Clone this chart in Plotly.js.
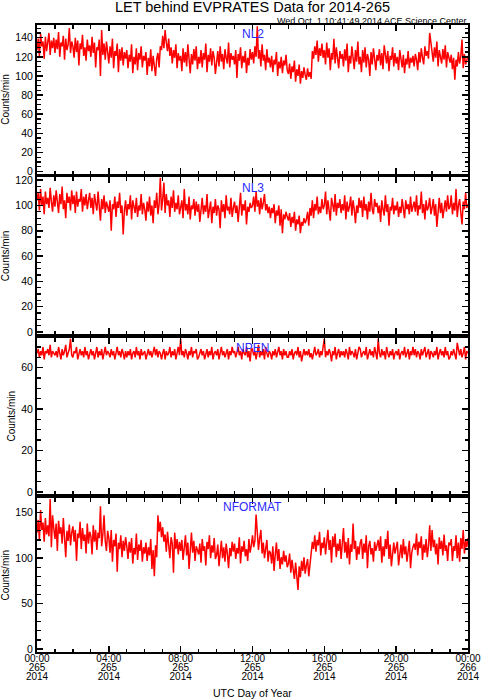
<!DOCTYPE html>
<html><head><meta charset="utf-8">
<script src="https://cdn.plot.ly/plotly-3.0.1.min.js"></script>
<style>html,body{margin:0;padding:0;background:#fff;}#chart{width:481px;height:700px;}</style>
</head><body><div id="chart"></div>
<script>
// Day 265 of 2014 (2014-09-22), 00:00 to 24:00 UTC
const START_MS = Date.UTC(2014, 8, 22, 0, 0, 0);
const END_MS = Date.UTC(2014, 8, 23, 0, 0, 0);
const HOUR_MS = 3600000;

const panelNames = ["NL2", "NL3", "NPEN", "NFORMAT"];
const tickHours = [0, 4, 8, 12, 16, 20, 24];
const hourLabels = ["00:00", "04:00", "08:00", "12:00", "16:00", "20:00", "00:00"];
const dayLabels = ["265", "265", "265", "265", "265", "265", "266"];
const yearLabels = ["2014", "2014", "2014", "2014", "2014", "2014", "2014"];

const nl2 = [
127,139,121,144,131,136,118,141,126,134,145,122,137,129,140,
124,138,128,146,120,135,131,142,117,139,127,133,150,124,136,
131,119,140,125,137,111,134,128,143,121,130,116,138,126,132,
120,141,124,135,109,130,127,138,100,148,122,134,117,136,125,
113,131,119,139,108,126,121,134,104,128,116,130,111,125,118,
127,108,122,115,133,103,120,112,129,106,124,117,131,109,121,
116,125,101,119,110,128,105,121,113,100,118,124,109,131,127,
142,129,148,135,126,139,121,130,113,127,119,133,108,124,116,
121,105,129,114,125,110,133,118,103,123,112,128,116,131,107,
120,113,127,109,124,117,134,104,122,115,129,111,126,119,102,
118,126,110,131,115,123,107,128,119,113,135,109,124,117,121,
112,127,98,123,116,130,108,121,114,126,103,119,111,128,117,
125,113,131,120,152,118,127,110,133,116,122,106,128,114,119,
109,121,104,117,112,125,100,115,108,120,103,116,111,122,106,
102,113,97,110,104,116,94,107,100,112,92,105,98,109,101,
96,108,99,104,97,126,118,131,122,137,115,129,121,134,119,
127,112,135,119,129,106,124,117,139,113,130,121,108,126,118,
123,110,128,116,134,104,121,113,131,119,107,127,115,136,112,
120,104,127,114,130,109,123,117,100,125,112,129,118,106,122,
116,128,111,124,107,132,119,113,126,105,121,117,130,110,124,
113,120,106,127,116,109,122,103,118,112,126,108,119,114,121,
110,123,117,106,125,114,129,119,112,131,121,126,118,145,133,
124,115,130,119,136,110,127,121,113,128,117,132,109,125,120,
114,122,107,119,96,117,110,125,113,121,138,108,123,112,118,
121];

const nl3 = [
104,110,96,113,100,107,93,111,101,106,98,114,103,95,108,
99,112,105,94,109,101,115,97,104,90,110,102,107,96,112,
101,108,94,111,99,105,103,113,95,107,100,109,97,104,110,
98,106,93,109,102,96,111,100,88,105,97,108,94,103,99,
95,104,80,101,97,107,91,103,98,110,94,100,77,96,104,
92,101,97,108,89,104,99,94,106,91,100,96,109,93,102,
97,88,103,95,107,92,100,86,104,98,110,93,101,122,96,
105,118,94,109,100,104,91,107,98,112,95,102,97,108,93,
99,104,90,113,96,101,93,107,89,100,97,105,92,103,95,
101,87,98,106,93,100,95,109,90,97,103,86,99,94,105,
92,100,97,82,104,95,101,90,108,96,99,93,106,91,98,
103,94,100,87,97,110,92,101,96,104,85,99,95,102,98,
100,107,95,111,99,104,93,106,97,102,109,96,101,94,99,
90,98,94,101,86,96,92,100,84,97,78,93,89,95,91,
88,94,83,91,86,95,80,89,85,92,78,87,84,90,86,
89,95,84,98,92,104,90,101,96,107,93,99,94,105,97,
100,111,93,104,97,88,106,99,95,109,92,102,98,105,94,
101,96,108,89,103,95,99,107,92,104,97,86,100,94,106,
98,104,91,107,96,101,89,103,95,110,97,93,105,99,102,
94,100,87,104,97,92,108,95,101,84,99,96,106,93,100,
96,103,91,99,94,105,98,90,104,97,101,93,107,95,99,
103,95,108,92,100,97,111,94,101,89,104,96,99,106,93,
98,105,92,101,83,97,106,94,102,90,99,104,95,108,97,
99,108,93,102,96,113,91,100,105,94,85,103,97,110,98,
101];

const npen = [
67,69,65,68,66,70,64,68,67,69,66,71,65,68,67,
66,68,65,70,67,64,69,66,68,71,65,67,69,74,66,
65,68,67,70,64,67,69,66,68,65,70,66,68,64,67,
69,66,68,64,67,70,65,68,66,69,64,67,70,66,68,
67,65,69,66,68,64,67,70,66,68,65,69,67,64,68,
65,68,66,69,64,67,68,65,70,66,68,64,69,66,67,
68,64,67,69,66,68,65,67,70,66,69,65,68,67,64,
67,69,64,68,66,67,70,65,68,66,69,64,67,70,66,
74,66,68,65,69,67,64,68,66,70,65,68,67,69,64,
65,67,69,66,68,64,67,69,65,68,66,70,64,67,68,
66,69,64,67,70,66,68,65,67,69,64,68,66,70,67,
68,65,67,70,66,68,64,69,67,66,70,65,68,63,69,
69,66,68,64,67,71,65,68,66,69,64,70,67,65,68,
67,64,68,66,69,65,67,70,66,68,64,69,66,68,65,
65,68,66,69,64,67,68,66,70,65,68,63,67,69,66,
68,66,69,65,67,64,68,70,66,67,69,65,68,66,70,
74,65,68,66,69,67,63,68,66,70,64,67,69,65,68,
66,68,65,69,67,64,70,66,68,67,65,69,64,68,70,
69,65,67,68,66,70,64,67,69,66,68,65,70,67,64,
74,67,65,69,66,68,64,70,67,65,68,66,69,64,67,
68,66,69,64,67,68,66,70,65,67,69,64,68,66,70,
66,69,65,68,67,64,69,66,68,70,65,67,69,64,68,
67,65,68,66,70,64,67,69,66,68,65,70,66,68,64,
65,68,66,69,67,64,72,68,66,69,65,67,70,64,68,
67];

const nformat = [
128,142,120,153,131,139,118,144,126,136,124,165,112,147,133,
121,138,108,141,127,134,116,144,123,101,130,119,137,114,128,
135,118,131,97,127,122,140,110,133,119,126,105,138,116,129,
124,104,136,118,131,109,128,122,157,113,126,147,119,108,130,
122,106,131,96,120,113,127,85,117,110,125,101,119,108,123,
113,99,118,106,122,94,111,104,127,98,115,108,120,96,112,
105,117,97,112,103,121,88,109,80,114,101,147,129,140,123,
134,118,126,107,129,112,100,123,116,84,128,110,121,104,118,
108,120,98,114,125,103,117,88,111,128,106,119,97,113,109,
104,116,95,121,108,113,92,118,110,125,100,114,106,122,99,
103,115,91,109,119,100,112,96,116,105,89,111,102,118,107,
116,99,111,105,123,94,113,107,119,102,110,97,121,106,114,
125,112,119,148,126,109,122,131,105,117,100,113,120,96,108,
106,94,113,86,104,117,97,110,88,101,93,108,96,103,90,
94,105,84,98,89,77,95,82,65,91,79,97,86,101,83,
92,99,80,96,105,118,110,125,107,120,114,129,103,117,111,
123,104,117,131,109,120,95,124,112,127,101,116,108,121,99,
112,133,106,118,100,122,93,115,107,138,110,119,98,113,104,
117,121,99,116,106,125,89,113,119,104,111,96,118,108,114,
120,108,124,95,113,102,121,110,130,99,115,91,109,117,105,
111,118,92,107,115,100,121,104,113,96,110,119,89,106,112,
116,109,127,103,118,111,124,98,115,106,121,101,113,136,108,
131,112,120,104,116,93,123,110,119,103,126,108,114,97,117,
114,121,97,113,108,125,100,117,96,122,110,131,105,119,112,
122];

const series = [nl2, nl3, npen, nformat];

// ---- layout (positions / styles) ----
const yRanges = [[-2.6, 153.3], [-1.8, 122.1], [-1.2, 74.2], [-3.6, 165.8]];
const yDtick = [20, 20, 20, 50];
const yMinor = [5, 5, 5, 10];
const domains = [[0.7725, 1.0], [0.5278, 0.7672], [0.2835, 0.5217], [0.0423, 0.2774]];
const labelY = [0.9863, 0.7511, 0.5069, 0.2634];
const tickMs = tickHours.map(h => START_MS + h * HOUR_MS);

const traces = series.map((vals, k) => {
  const step = (END_MS - START_MS) / (vals.length - 1);
  return {
    type: 'scatter', mode: 'lines',
    x: vals.map((_, i) => START_MS + i * step), y: vals,
    xaxis: k === 0 ? 'x' : 'x' + (k + 1),
    yaxis: k === 0 ? 'y' : 'y' + (k + 1),
    line: {color: '#ff0000', width: 1.5},
    hoverinfo: 'skip', showlegend: false
  };
});
// carriers for the three tick-label rows (time, day of year, year)
['x5', 'x6', 'x7'].forEach(ax => traces.push({type: 'scatter', mode: 'lines', x: [], y: [], xaxis: ax, yaxis: 'y4', showlegend: false, hoverinfo: 'skip'}));

const layout = {
  width: 481, height: 700,
  margin: {l: 37, r: 13, t: 25, b: 20},
  paper_bgcolor: '#ffffff', plot_bgcolor: '#ffffff',
  font: {family: 'Liberation Sans, Arial, sans-serif', color: '#000000', size: 11},
  showlegend: false,
  title: {text: 'LET behind EVPRATES Data for 2014-265', font: {size: 14.5, color: '#000'},
          x: 0.5, xanchor: 'center', xref: 'paper', y: 0.99, yanchor: 'middle', yref: 'container'},
  annotations: [
    {text: 'Wed Oct\u00a0 1 10:41:49 2014 ACE Science Center', xref: 'paper', yref: 'paper',
     x: 1, xanchor: 'right', y: 1.0066, yanchor: 'middle', showarrow: false, font: {size: 9}},
    {text: 'UTC Day of Year', xref: 'paper', yref: 'paper', x: 0.5, xanchor: 'center',
     y: -0.0198, yanchor: 'middle', showarrow: false, font: {size: 10.5}}
  ]
};

for (let k = 0; k < 4; k++) {
  const xs = k === 0 ? 'xaxis' : 'xaxis' + (k + 1);
  const ys = k === 0 ? 'yaxis' : 'yaxis' + (k + 1);
  const yid = k === 0 ? 'y' : 'y' + (k + 1);
  const xid = k === 0 ? 'x' : 'x' + (k + 1);
  layout[xs] = {
    type: 'date', anchor: yid, range: [START_MS, END_MS],
    showline: true, linewidth: 2, linecolor: '#000', mirror: 'ticks',
    ticks: 'inside', ticklen: 6, tickwidth: 1.5, tickcolor: '#000',
    tickmode: 'array', tickvals: tickMs, ticktext: hourLabels,
    showticklabels: false,
    showgrid: false, zeroline: false, fixedrange: true,
    minor: {tickmode: 'linear', dtick: HOUR_MS, tick0: START_MS, ticks: 'inside', ticklen: 3.5, tickwidth: 1.2, tickcolor: '#000', showgrid: false}
  };
  layout[ys] = {
    anchor: xid, domain: domains[k], range: yRanges[k],
    showline: true, linewidth: 2, linecolor: '#000', mirror: 'ticks',
    ticks: 'inside', ticklen: 6, tickwidth: 1.5, tickcolor: '#000',
    tick0: 0, dtick: yDtick[k], tickfont: {size: 10.5},
    showgrid: false, zeroline: false, fixedrange: true,
    title: {text: 'Counts/min', font: {size: 10}, standoff: 4},
    minor: {dtick: yMinor[k], tick0: 0, ticks: 'inside', ticklen: 3.5, tickwidth: 1.2, tickcolor: '#000', showgrid: false}
  };
  layout.annotations.push({
    text: panelNames[k], xref: 'paper', yref: 'paper', x: 0.5, xanchor: 'center',
    y: labelY[k], yanchor: 'middle', showarrow: false, font: {size: 12, color: '#2a2aff'}
  });
}

const labelRow = (text, pos) => ({
  type: 'date', overlaying: 'x4', anchor: 'free', position: pos, side: 'bottom',
  range: [START_MS, END_MS],
  showline: false, ticks: '', showgrid: false, zeroline: false, fixedrange: true,
  tickmode: 'array', tickvals: tickMs, ticktext: text,
  tickfont: {size: 10}
});
layout.xaxis7 = labelRow(hourLabels, 0.0447);
layout.xaxis5 = labelRow(dayLabels, 0.0298);
layout.xaxis6 = labelRow(yearLabels, 0.0163);

Plotly.newPlot('chart', traces, layout, {staticPlot: true, displayModeBar: false});
</script>
</body></html>
